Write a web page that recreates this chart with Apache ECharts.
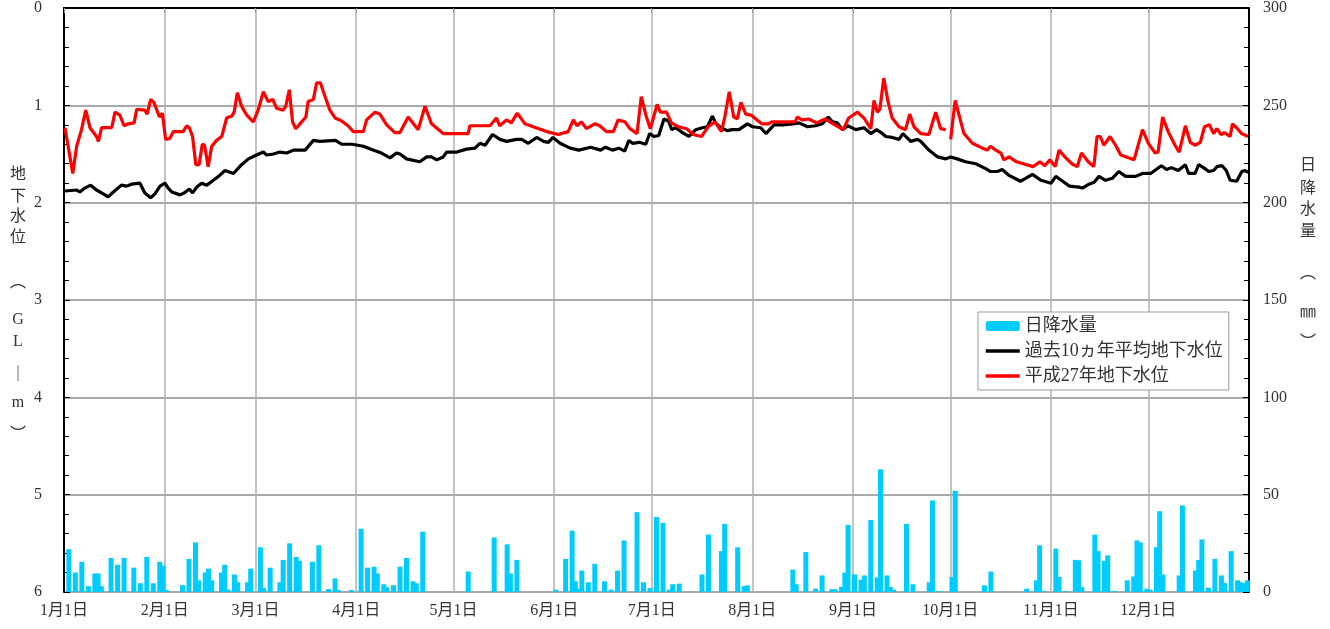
<!DOCTYPE html>
<html>
<head>
<meta charset="utf-8">
<script src="https://cdn.jsdelivr.net/npm/echarts@6.0.0/dist/echarts.min.js"></script>
<style>
  html, body { margin: 0; padding: 0; background: #fff; }
  #chart { width: 1330px; height: 629px; }
</style>
</head>
<body>
<div id="chart"></div>
<script>
// x: day of year (0 = start of Jan 1), y: groundwater depth GL-m
const monthStarts = [0, 31, 59, 90, 120, 151, 181, 212, 243, 273, 304, 334];
const monthLabels = ["1月1日", "2月1日", "3月1日", "4月1日", "5月1日", "6月1日",
  "7月1日", "8月1日", "9月1日", "10月1日", "11月1日", "12月1日"];

const seriesNames = ["日降水量", "過去10ヵ年平均地下水位", "平成27年地下水位"];

// daily rainfall (mm): [day index, mm]
const rainfall = [
  [1, 22], [3, 10], [5, 15.5], [7, 3], [9, 9.5], [10, 9.5], [11, 3], [14, 17.5], [16, 14],
  [18, 17.5], [21, 12.5], [23, 4.5], [25, 18], [27, 4.5], [29, 15.5], [30, 13.5], [31, 1],
  [36, 3.5], [38, 17], [40, 25.5], [41, 6], [43, 10], [44, 12], [45, 6], [48, 10], [49, 14],
  [50, 1.2], [52, 9], [53, 5], [56, 5], [57, 12], [60, 23], [61, 2], [63, 12.5], [66, 5],
  [67, 16.5], [69, 25], [71, 18], [72, 16], [76, 15.5], [78, 24], [81, 1.5], [83, 7], [84, 1],
  [88, 1], [91, 32.5], [93, 12.5], [95, 13], [96, 9.5], [98, 4], [99, 2.5], [101, 3.5],
  [103, 13], [105, 17.5], [107, 5.5], [108, 4.5], [110, 31],
  [124, 10.5], [132, 28], [136, 24.5], [137, 9.5], [139, 16.5], [151, 1.2], [154, 17],
  [156, 31.5], [157, 5.5], [158, 1.7], [159, 11], [161, 5], [163, 14.5], [166, 5.5], [168, 1.2],
  [170, 11], [172, 26.5], [176, 41], [178, 5], [180, 2], [182, 38.5], [184, 35.5], [186, 1.2],
  [187, 4], [189, 4.3], [196, 9], [198, 29.5], [202, 21], [203, 35], [207, 23], [209, 3],
  [210, 3.4], [224, 11.5], [225, 4], [228, 20.5], [231, 1.7], [233, 8.5], [236, 1.4], [237, 1.4],
  [239, 2.6], [240, 10], [241, 34.5], [243, 9], [245, 6.3], [246, 8.5], [248, 37], [250, 7.5],
  [251, 63], [253, 8.5], [254, 2.6], [255, 1.2], [259, 35], [261, 4], [266, 5], [267, 47],
  [269, 0.5], [273, 7.7], [274, 52], [283, 3.4], [285, 10.5], [296, 1.7], [299, 6], [300, 24],
  [301, 0.5], [305, 22.3], [306, 7.7], [308, 0.5], [311, 16.5], [312, 16.3], [313, 2.6],
  [317, 29.5], [318, 21], [320, 16], [321, 18.8], [323, 0.5], [327, 6], [329, 8], [330, 26.5],
  [331, 25.5], [333, 1.7], [334, 1.2], [336, 23], [337, 41.5], [338, 9], [343, 8.5], [344, 44.5],
  [348, 11], [349, 16.5], [350, 27], [352, 2.2], [354, 17], [356, 8.5], [357, 4.6], [359, 21],
  [361, 6], [362, 5], [363, 4.6], [364, 6]
];

// 10-year average groundwater level: [day, GL-m]
const levelAverage = [
  [0.3, 1.88], [3.9, 1.87], [4.9, 1.89], [6.4, 1.85], [8.2, 1.82], [10, 1.87], [12.1, 1.91],
  [13.6, 1.94], [15.2, 1.89], [17.7, 1.82], [19.3, 1.83], [20.8, 1.81], [23.4, 1.80], [24.9, 1.90],
  [26.7, 1.95], [28, 1.91], [29.6, 1.83], [31.1, 1.80], [32.1, 1.85], [33.2, 1.89], [35.7, 1.92],
  [37, 1.90], [38.6, 1.86], [39.6, 1.90], [40.9, 1.84], [42.4, 1.80], [44, 1.82], [46, 1.77],
  [47.6, 1.73], [49.6, 1.67], [52.2, 1.70], [54.7, 1.61], [56.8, 1.55], [59.3, 1.51], [61.4, 1.48],
  [62.4, 1.51], [64.5, 1.50], [66.5, 1.48], [68.6, 1.49], [70.7, 1.46], [74.3, 1.46], [76.8, 1.36],
  [78.8, 1.37], [83.6, 1.36], [85.6, 1.40], [88.8, 1.40], [92.2, 1.42], [95.2, 1.46], [97.8, 1.49],
  [100.4, 1.54], [102.4, 1.49], [103.5, 1.50], [105.5, 1.55], [109.6, 1.58], [111.7, 1.53],
  [113.2, 1.53], [114.8, 1.56], [116.8, 1.53], [117.9, 1.48], [121, 1.48], [124, 1.45],
  [126.6, 1.44], [128.1, 1.39], [129.7, 1.41], [132, 1.30], [134.3, 1.35], [136.3, 1.37],
  [139.4, 1.35], [141, 1.35], [143, 1.39], [145.6, 1.33], [147.7, 1.37], [149.2, 1.38],
  [150.6, 1.33], [152.8, 1.39], [155.9, 1.44], [158.6, 1.46], [162.2, 1.43], [165.3, 1.46],
  [166.8, 1.43], [168.9, 1.46], [170.9, 1.44], [172.7, 1.47], [174, 1.36], [175.1, 1.39],
  [177.2, 1.38], [179.2, 1.40], [180.4, 1.29], [181.7, 1.32], [183.2, 1.31], [184.8, 1.14],
  [186.2, 1.16], [187.2, 1.25], [188.4, 1.23], [190.5, 1.28], [192.5, 1.32], [194.6, 1.25],
  [196.6, 1.23], [198.2, 1.22], [199.7, 1.11], [200.7, 1.18], [202.3, 1.23], [204.3, 1.26],
  [205.8, 1.25], [207.9, 1.25], [210.5, 1.19], [212.1, 1.22], [214.6, 1.23], [216.2, 1.29],
  [218.7, 1.20], [221.3, 1.20], [224.4, 1.19], [226.4, 1.18], [229, 1.22], [231.5, 1.21],
  [233.6, 1.19], [235.4, 1.12], [236.7, 1.17], [238.2, 1.18], [239.8, 1.25], [241.4, 1.21],
  [243.9, 1.25], [246.4, 1.23], [248.5, 1.29], [250.3, 1.25], [252.1, 1.29], [253.1, 1.32],
  [255.1, 1.33], [257.2, 1.35], [258.4, 1.29], [260.8, 1.37], [262.9, 1.35], [263.9, 1.37],
  [266.4, 1.46], [269.1, 1.53], [271.6, 1.55], [273.1, 1.53], [275.1, 1.55], [277.7, 1.58],
  [280.8, 1.60], [283.9, 1.65], [285.4, 1.68], [287.5, 1.68], [289, 1.66], [291.1, 1.72],
  [294.6, 1.78], [296.2, 1.75], [298.3, 1.71], [300.9, 1.77], [304, 1.80], [305.5, 1.73],
  [307.6, 1.78], [309.7, 1.83], [312.6, 1.84], [313.7, 1.85], [315.7, 1.81], [317.3, 1.79],
  [318.8, 1.73], [320.8, 1.77], [322.9, 1.75], [324.9, 1.68], [327, 1.73], [330.1, 1.73],
  [332.2, 1.70], [334.7, 1.70], [338, 1.62], [339.6, 1.66], [341.1, 1.64], [343.2, 1.67],
  [345.4, 1.61], [346.4, 1.70], [348.4, 1.70], [349.5, 1.61], [351, 1.64], [352.6, 1.68],
  [354.1, 1.67], [355.1, 1.63], [356.7, 1.62], [358, 1.67], [359.2, 1.77], [361.2, 1.78],
  [362.8, 1.68], [363.8, 1.67], [364.8, 1.69]
];

// 2015 (H27) groundwater level: [day, GL-m], "-" = missing
const level2015 = [
  [0.3, 1.23], [2.7, 1.70], [3.9, 1.42], [5.4, 1.25], [6.7, 1.05], [8, 1.23], [10, 1.32],
  [10.6, 1.37], [11.6, 1.23], [14.7, 1.23], [15.7, 1.07], [17.2, 1.10], [18.5, 1.21], [19.8, 1.19],
  [21.6, 1.18], [22.4, 1.04], [24.9, 1.05], [25.6, 1.09], [26.7, 0.94], [27.7, 0.97], [29.4, 1.12],
  [30.3, 1.08], [31.3, 1.35], [32.6, 1.34], [33.7, 1.27], [36.7, 1.27], [37.8, 1.21], [38.6, 1.23],
  [39.6, 1.32], [40.6, 1.61], [41.6, 1.61], [42.6, 1.40], [43.3, 1.41], [44.4, 1.63], [45.5, 1.42],
  [47, 1.36], [48.6, 1.32], [50.1, 1.13], [51.7, 1.11], [52.4, 1.07], [53.4, 0.87], [54.7, 1.01],
  [56.3, 1.10], [58.3, 1.17], [59.8, 1.05], [61.4, 0.86], [62.9, 0.96], [64.3, 0.94], [65.5, 1.03],
  [67.5, 1.05], [68.3, 1.01], [69.4, 0.84], [70.4, 1.17], [71.4, 1.24], [73.2, 1.17], [74.5, 1.12],
  [75.2, 0.96], [76.8, 0.94], [77.8, 0.77], [79, 0.77], [80.4, 0.91], [81.9, 1.05], [83.5, 1.13],
  [85.5, 1.16], [87.5, 1.21], [89.1, 1.27], [92.2, 1.27], [93.2, 1.15], [95.8, 1.07], [97.3, 1.09],
  [99.4, 1.20], [101.9, 1.28], [103.5, 1.28], [106, 1.12], [109.1, 1.25], [111.2, 1.01],
  [113.2, 1.19], [116.8, 1.29], [124.5, 1.29], [125, 1.21], [131.2, 1.21], [133.2, 1.13],
  [134.2, 1.21], [136.3, 1.15], [137.8, 1.18], [139.6, 1.08], [142, 1.19], [144.5, 1.22],
  [148.7, 1.27], [152.2, 1.30], [155.3, 1.27], [156.9, 1.15], [158, 1.21], [159.4, 1.17],
  [160.9, 1.24], [163.5, 1.19], [165, 1.21], [167.1, 1.27], [169.2, 1.27], [170.7, 1.15],
  [172.8, 1.17], [174.3, 1.24], [176.5, 1.29], [177.8, 0.91], [179.4, 1.12], [180.6, 1.24],
  [182.7, 0.99], [183.7, 1.07], [185.6, 1.07], [187.1, 1.18], [189.2, 1.22], [191.8, 1.24],
  [193.8, 1.30], [196.4, 1.32], [198.4, 1.22], [200.5, 1.17], [202.5, 1.27], [203.6, 1.11],
  [204.9, 0.86], [206.3, 1.12], [207.4, 1.14], [208.5, 0.97], [210, 1.09], [211.6, 1.10],
  [214.9, 1.19], [217, 1.19], [218, 1.17], [225.2, 1.17], [225.9, 1.12], [227.3, 1.15],
  [229.4, 1.14], [231.8, 1.18], [234.4, 1.14], [236.4, 1.18], [240, 1.25], [241.7, 1.13],
  [244.4, 1.07], [246.4, 1.13], [248.5, 1.24], [249.5, 0.95], [250.5, 1.07], [251.3, 1.04],
  [252.5, 0.72], [253.8, 0.96], [255.1, 1.13], [257.2, 1.22], [259.2, 1.25], [260.5, 1.09],
  [261.8, 1.22], [263.9, 1.29], [266.4, 1.30], [268.5, 1.07], [270, 1.24], [271.6, 1.25],
  [272.3, "-"], [273.1, 1.35], [274.5, 0.95], [277.2, 1.29], [279.8, 1.39], [282.9, 1.44],
  [284.4, 1.46], [285.4, 1.42], [287, 1.46], [288.6, 1.49], [289.5, 1.56], [291.1, 1.53],
  [293.4, 1.58], [295.5, 1.60], [298.5, 1.63], [300.6, 1.58], [302.1, 1.62], [303.7, 1.56],
  [305.3, 1.63], [306.5, 1.46], [308.3, 1.53], [310.4, 1.60], [312.1, 1.63], [313.4, 1.49],
  [315.5, 1.58], [317.2, 1.63], [318.2, 1.32], [319.2, 1.32], [320.3, 1.41], [322.2, 1.32],
  [323.9, 1.41], [325.5, 1.51], [328.1, 1.54], [329.6, 1.56], [332.2, 1.25], [334, 1.39],
  [336.1, 1.49], [337, 1.48], [338.4, 1.12], [340.1, 1.27], [342.2, 1.41], [343.5, 1.48],
  [345.4, 1.21], [346.9, 1.38], [348.4, 1.41], [350, 1.38], [351.3, 1.22], [352.8, 1.20],
  [354.1, 1.29], [355.1, 1.24], [356.4, 1.30], [357.4, 1.28], [359.2, 1.32], [359.9, 1.19],
  [361.2, 1.23], [362.7, 1.29], [364.7, 1.32]
];

const FONT = "'Liberation Serif', 'DejaVu Serif', 'Noto Sans CJK JP', serif";
const TEXT = "#333";

function verticalName(chars, ys, x) {
  return chars.map((c, i) => ({
    type: "text",
    style: {
      text: c, x: x, y: ys[i], fill: TEXT,
      font: "16px " + FONT, align: "center", verticalAlign: "middle"
    }
  }));
}

const chart = echarts.init(document.getElementById("chart"));

chart.setOption({
  animation: false,
  backgroundColor: "#fff",
  grid: { left: 64, right: 81, top: 8, bottom: 37 },
  legend: {
    orient: "vertical",
    left: 978, top: 312,
    padding: [5, 6, 5, 6],
    itemGap: 7,
    itemWidth: 34, itemHeight: 10,
    backgroundColor: "#fff",
    borderColor: "#999", borderWidth: 1,
    borderRadius: 0,
    textStyle: { fontSize: 18, color: TEXT, fontFamily: FONT },
    data: [
      { name: seriesNames[0], icon: "roundRect" },
      { name: seriesNames[1], itemStyle: { opacity: 0 }, lineStyle: { width: 3.5 } },
      { name: seriesNames[2], itemStyle: { opacity: 0 }, lineStyle: { width: 3.5 } }
    ]
  },
  xAxis: {
    type: "value",
    min: 0, max: 365,
    axisLine: { lineStyle: { color: "#000", width: 2 } },
    axisTick: { customValues: monthStarts, length: 5, lineStyle: { color: "#999" } },
    axisLabel: {
      customValues: monthStarts,
      formatter: (v) => monthLabels[monthStarts.indexOf(v)],
      fontSize: 16, color: TEXT, fontFamily: FONT, margin: 11
    },
    splitLine: { show: true, lineStyle: { color: "#b0b0b0", width: 1.5 } }
  },
  yAxis: [
    {
      type: "value",
      inverse: true,
      min: 0, max: 6, interval: 1,
      position: "left",
      axisLine: { show: true, lineStyle: { color: "#000", width: 2 } },
      axisTick: { show: true, inside: true, length: 6, lineStyle: { color: "#000" } },
      minorTick: { show: true, splitNumber: 5, length: 5, lineStyle: { color: "#000" } },
      axisLabel: { fontSize: 16, color: TEXT, fontFamily: FONT, margin: 22 },
      splitLine: { show: true, lineStyle: { color: "#8c8c8c", width: 1.5 } }
    },
    {
      type: "value",
      min: 0, max: 300, interval: 50,
      position: "right",
      axisLine: { show: true, lineStyle: { color: "#000", width: 2 } },
      axisTick: { show: true, inside: true, length: 6, lineStyle: { color: "#000" } },
      minorTick: { show: true, splitNumber: 5, length: 5, lineStyle: { color: "#000" } },
      axisLabel: { fontSize: 16, color: TEXT, fontFamily: FONT, margin: 14 },
      splitLine: { show: false }
    }
  ],
  series: [
    {
      name: seriesNames[0],
      type: "bar",
      yAxisIndex: 1,
      barWidth: 5,
      itemStyle: { color: "#00ccff" },
      data: rainfall.map(([d, mm]) => [d + 0.5, mm])
    },
    {
      name: seriesNames[1],
      type: "line",
      yAxisIndex: 0,
      symbol: "none",
      lineStyle: { color: "#000", width: 3.2 },
      itemStyle: { color: "#000" },
      data: levelAverage
    },
    {
      name: seriesNames[2],
      type: "line",
      yAxisIndex: 0,
      symbol: "none",
      connectNulls: false,
      lineStyle: { color: "#ff0000", width: 3.2 },
      itemStyle: { color: "#ff0000" },
      data: level2015
    }
  ],
  graphic: [
    ...verticalName(["地", "下", "水", "位", "︵", "G", "L", "｜", "m", "︶"],
      [175, 197, 217, 238, 283, 320, 342, 375, 403, 435], 18),
    ...verticalName(["日", "降", "水", "量", "︵", "㎜", "︶"],
      [166, 189, 210, 232, 274, 313, 343], 1308)
  ]
});
</script>
</body>
</html>
